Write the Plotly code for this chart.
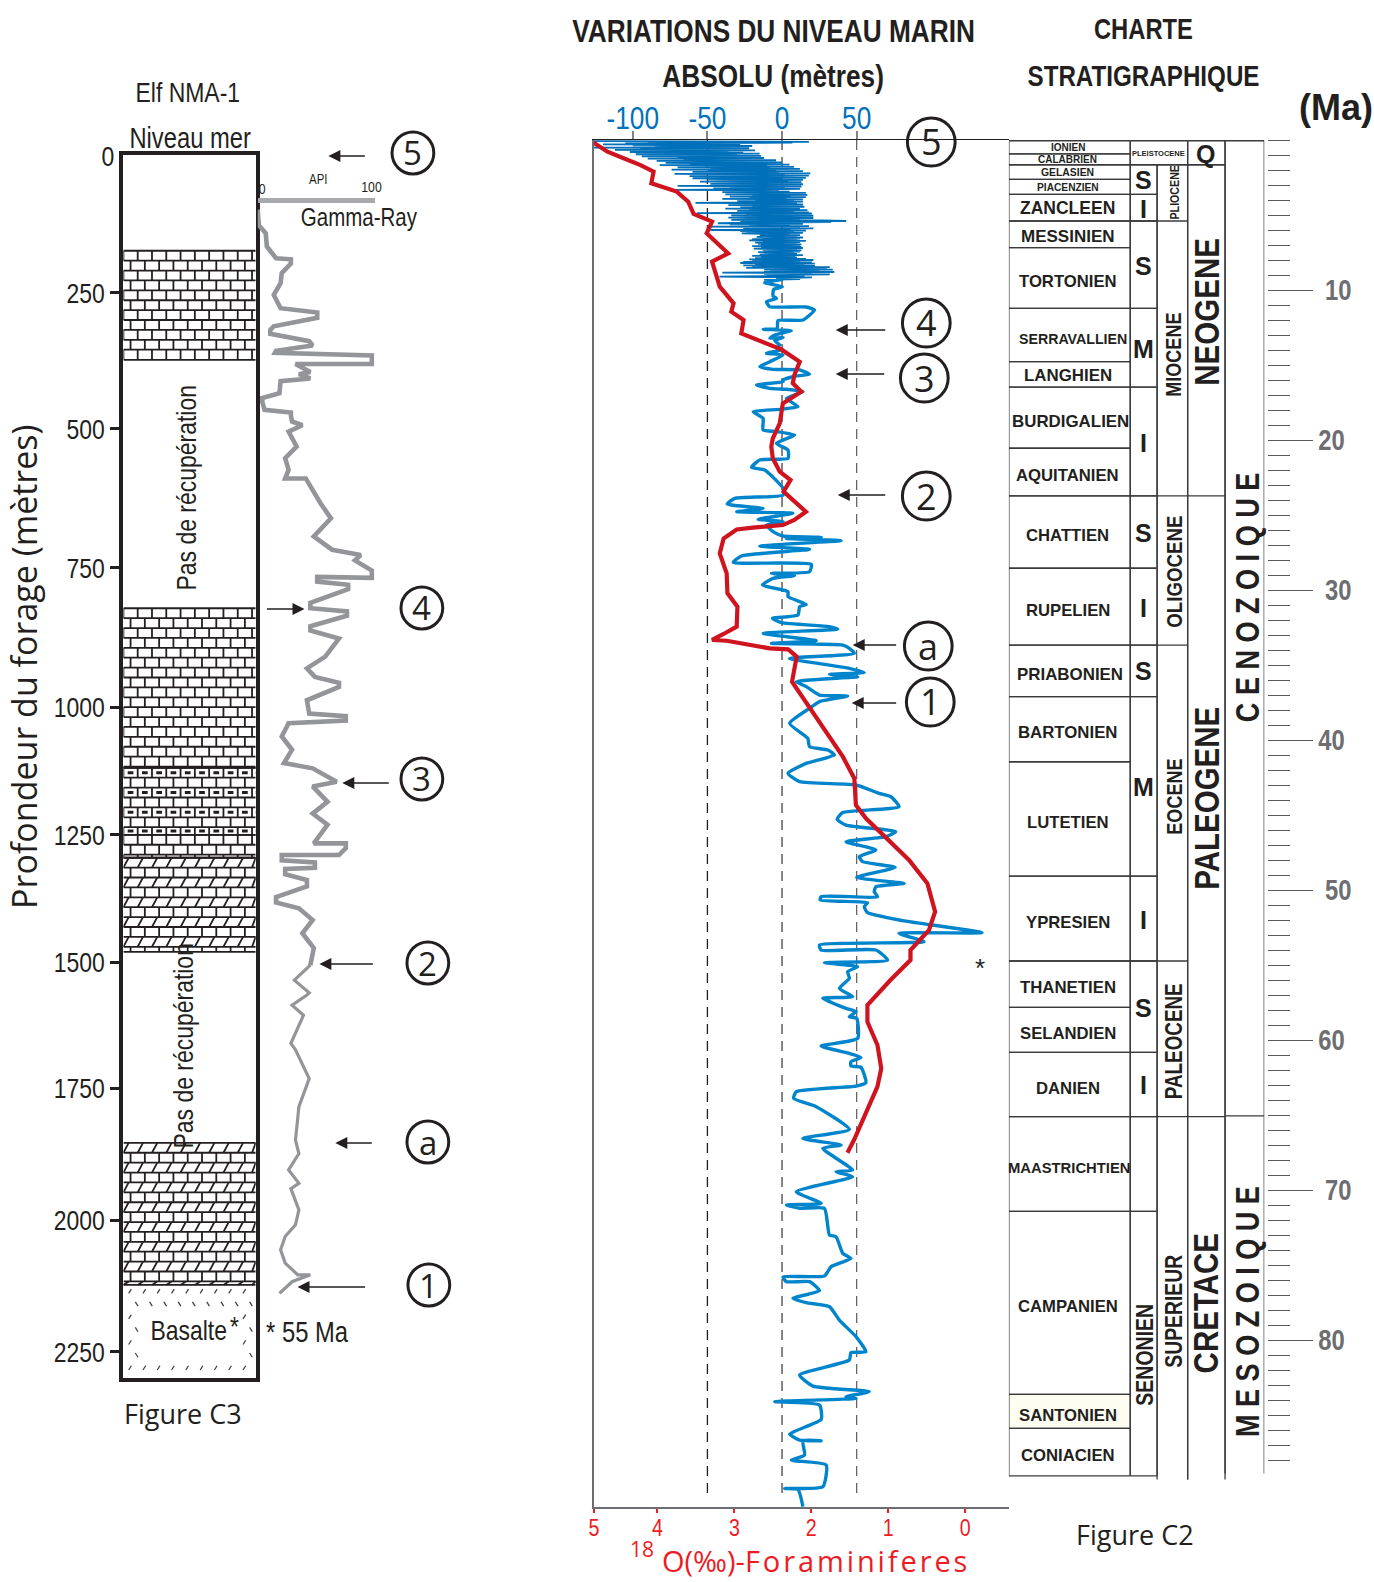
import plotly.graph_objects as go

W, H = 1374, 1582
NARROW = "Liberation Sans Narrow, Liberation Sans"
ARIAL = "Liberation Sans"
OPEN = "Open Sans"
INK = "#231F20"
GREY = "#939598"
BLUE = "#0085CC"
DEEP = "#0070BA"
RED = "#CF1420"
TICKRED = "#ED1C24"

# ---------- well log (Elf NMA-1) ----------
depth_tick_pos = [259, 515, 776, 1038, 1278, 1517, 1754, 2002, 2250]
depth_tick_txt = ["250", "500", "750", "1000", "1250", "1500", "1750", "2000", "2250"]
api_upper = [0, 1, 7, 8, 16, 29, 29, 21, 20, 14, 20, 52, 52, 14, 11, 11, 45, 48, 16, 15, 99.7, 99.7, 33, 46, 36, 46, 20, 19, 4, 4, 6, 29, 29, 30, 39, 27, 34, 24, 27, 24, 42, 55, 64, 49, 65, 90, 85, 99.7, 99.7, 52, 52, 79, 79, 46, 46, 78, 78, 46, 46, 71, 59, 43, 50, 71, 71, 43, 45, 77, 77, 27, 21, 30, 23, 48, 69, 48, 61, 48, 61, 49, 77, 77, 71, 21, 21, 50, 50, 24, 24, 43, 43, 16, 16, 36, 48, 39, 49, 46]
depth_upper = [103, 132, 147, 172, 194, 196, 204, 222, 241, 263, 288, 296, 306, 322, 329, 336, 350, 358, 368, 372, 377, 393, 393, 408, 412, 420, 425, 448, 457, 464, 479, 484, 490, 501, 508, 520, 548, 570, 592, 608, 608, 655, 683, 717, 742, 752, 762, 781, 795, 793, 802, 808, 816, 842, 852, 858, 866, 886, 894, 909, 943, 965, 981, 992, 1000, 1025, 1050, 1055, 1063, 1068, 1093, 1118, 1143, 1153, 1178, 1187, 1216, 1238, 1259, 1294, 1294, 1303, 1316, 1316, 1326, 1330, 1340, 1342, 1352, 1363, 1375, 1395, 1405, 1416, 1438, 1463, 1491, 1523]
api_lower = [46, 32, 45, 43, 30, 40, 29, 33, 45, 36, 33, 36, 27, 36, 29, 36, 33, 24, 20, 24, 35, 46, 30, 19]
depth_lower = [1523, 1551, 1575, 1579, 1598, 1617, 1670, 1682, 1736, 1789, 1852, 1877, 1908, 1933, 1943, 1983, 2011, 2033, 2058, 2083, 2105, 2105, 2118, 2140]
lith_units = ["brick", "brick", "dash", "brick", "slant", "slant"]
lith_tops = [180, 852, 1152, 1278, 1321, 1857]
lith_bases = [385, 1152, 1278, 1321, 1498, 2124]
basalt_top, basalt_base = 2124, 2299

# ---------- sea level / isotope curves ----------
recent_age = [.08, .12, .15, .18, .22, .25, .29, .33, .36, .40, .44, .47, .51, .55, .58, .62, .66, .69, .73, .77, .80, .84, .87, .91, .95, .98, 1.02, 1.06, 1.09, 1.13, 1.17, 1.20, 1.24, 1.28, 1.31, 1.35, 1.39, 1.42, 1.46, 1.50, 1.53, 1.57, 1.60, 1.64, 1.68, 1.72, 1.75, 1.79, 1.82, 1.86, 1.90, 1.93, 1.97, 2.01, 2.04, 2.08, 2.12, 2.15, 2.19, 2.23, 2.26, 2.30, 2.34, 2.37, 2.41, 2.44, 2.48, 2.52, 2.55, 2.59, 2.63, 2.66, 2.70, 2.74, 2.77, 2.81, 2.84, 2.88, 2.92, 2.95, 2.99, 3.03, 3.06, 3.10, 3.14, 3.18, 3.22, 3.26, 3.30, 3.33, 3.37, 3.41, 3.44, 3.48, 3.52, 3.55, 3.59, 3.63, 3.66, 3.70, 3.74, 3.78, 3.81, 3.85, 3.89, 3.93, 3.96, 4.00, 4.04, 4.08, 4.11, 4.15, 4.19, 4.23, 4.27, 4.30, 4.34, 4.38, 4.42, 4.45, 4.49, 4.53, 4.57, 4.60, 4.64, 4.68, 4.72, 4.75, 4.79, 4.83, 4.87, 4.90, 4.94, 4.98, 5.02, 5.05, 5.09, 5.13, 5.17, 5.20, 5.24, 5.28, 5.32, 5.36, 5.40, 5.43, 5.47, 5.51, 5.55, 5.59, 5.62, 5.66, 5.70, 5.74, 5.78, 5.81, 5.85, 5.89, 5.93, 5.97, 6.00, 6.04, 6.08, 6.12, 6.15, 6.19, 6.23, 6.27, 6.31, 6.34, 6.38, 6.42, 6.46, 6.50, 6.54, 6.57, 6.61, 6.65, 6.69, 6.73, 6.76, 6.80, 6.84, 6.88, 6.92, 6.96, 7.00, 7.04, 7.08, 7.12, 7.16, 7.20, 7.24, 7.28, 7.32, 7.36, 7.40, 7.44, 7.48, 7.52, 7.56, 7.60, 7.64, 7.68, 7.72, 7.76, 7.80, 7.84, 7.88, 7.92, 7.96, 8.00, 8.04, 8.08, 8.12, 8.16, 8.20, 8.24, 8.28, 8.32, 8.36, 8.40, 8.44, 8.48, 8.52, 8.56, 8.60, 8.64, 8.68, 8.72, 8.76, 8.80, 8.84, 8.88, 8.92, 8.96, 9.00, 9.05, 9.11, 9.16, 9.22, 9.28, 9.33]
recent_level = [-126, 18, -90, 7, -105, -40, -120, -28, -100, -20, -85, -32, -129, -22, -95, -30, -112, -18, -88, -36, -102, -26, -80, -15, -98, -30, -75, -14, -94, -35, -70, -12, -90, -28, -66, -4, -84, -20, -60, 0, -78, -18, -62, 5, -82, -10, -55, 8, -70, -8, -48, 12, -74, -4, -50, 14, -60, -2, -44, 19, -72, 2, -40, 18, -62, -3, -36, 16, -60, 0, -50, 14, -30, 4, -55, 13, -28, -4, -48, 14, -30, -2, -70, 13, -35, 2, -46, 12, -30, -71, -2, -25, 5, -40, 16, -22, 2, -38, 17, -20, 6, -35, 16, -22, 3, -40, 14, -18, 8, -30, 14, -20, -58, 10, -24, 14, -36, 6, -20, 15, -28, 4, -38, 12, -22, 17, -30, 8, -20, 18, -57, 20, -24, 8, -34, 21, -20, 10, -36, 21, -18, 12, -34, 27, 43, -28, 33, -20, -43, 14, -35, 5, -22, 18, -48, 12, -10, 21, -26, 6, -48, 16, -28, 8, -24, 14, -27, 5, -14, 12, -15, 10, -17, 14, -13, 12, -20, 10, -22, 16, -12, 12, -18, 10, -16, 13, -14, 12, -20, 13, -14, 14, -19, 10, -13, 13, -12, 12, -16, 8, -12, 10, -15, 14, -20, 9, -14, 10, -18, 16, -22, 21, -20, 12, -26, 20, -28, 22, -18, 15, -26, 22, -20, 32, -24, 30, -12, 34, -8, 25, -12, 35, -40, 20, -12, 32, -10, 15, -42, 20, -4, 12, -12]
older_age = [9.29, 9.51, 9.78, 9.96, 10.4, 10.56, 10.78, 11.11, 11.13, 11.33, 12.0, 12.04, 12.56, 12.62, 12.71, 13.0, 13.22, 13.16, 13.38, 13.67, 13.89, 14.0, 14.22, 14.33, 14.78, 15.11, 15.29, 15.33, 15.62, 15.73, 16.0, 16.11, 16.33, 16.56, 16.62, 16.78, 17.22, 17.78, 17.96, 18.11, 18.56, 19.33, 19.44, 19.67, 20.22, 20.67, 21.22, 21.33, 21.82, 22.0, 23.22, 23.67, 23.89, 24.27, 24.56, 24.78, 24.89, 25.29, 25.44, 25.67, 26.11, 26.4, 26.49, 26.56, 26.71, 27.07, 27.29, 27.73, 28.16, 28.29, 28.78, 28.89, 29.04, 29.22, 29.67, 30.11, 30.44, 30.96, 31.11, 31.67, 31.89, 32.18, 32.44, 32.6, 32.89, 33.38, 33.56, 33.67, 33.89, 34.22, 34.56, 35.22, 35.51, 35.62, 35.78, 36.11, 36.44, 37.0, 37.07, 37.44, 37.89, 38.89, 39.89, 40.44, 40.67, 41.0, 41.56, 42.22, 42.78, 43.0, 43.56, 43.78, 44.44, 44.84, 45.29, 45.67, 46.11, 46.44, 46.78, 47.33, 47.78, 48.11, 48.49, 49.16, 49.56, 49.78, 50.11, 50.44, 50.44, 50.67, 50.84, 51.11, 51.51, 52.04, 52.84, 52.89, 53.44, 53.67, 54.0, 54.0, 54.67, 54.84, 55.11, 55.44, 55.89, 56.56, 57.11, 57.22, 57.89, 58.11, 58.44, 58.56, 59.89, 60.4, 60.89, 61.16, 61.44, 61.73, 61.82, 62.84, 63.07, 63.44, 63.89, 64.44, 65.96, 66.56, 67.0, 67.22, 68.67, 68.78, 69.11, 70.11, 70.89, 71.0, 71.22, 71.22, 73.0, 73.11, 74.22, 74.56, 75.11, 75.73, 75.78, 76.11, 76.11, 76.71, 77.22, 77.51, 77.78, 78.67, 79.78, 80.78, 80.84, 81.33, 82.33, 83.07, 83.44, 83.78, 83.89, 84.11, 84.33, 85.29, 86.27, 86.67, 86.71, 86.71, 87.67, 88.0, 88.33, 89.78, 89.89, 89.96, 91.1]
older_level = [.7, -11.6, .2, -5.6, -6, -3.8, -10.4, -8.2, 16.2, 21.8, 14, -2.7, -3.3, -12.7, 6.2, -4.9, -8.2, .7, -4.9, -1.6, -3.8, -.4, -10.4, .7, -8.2, -14.9, -6, 11.8, 18.4, 9.6, .7, .7, -17.1, -8.2, 2.9, 14, 2.9, 10.7, -1.6, -19.3, -12.7, -12.7, -3.8, 8.4, -3.8, 4, 4, -14.9, -20.4, -11.6, .7, .7, -31.6, -36.7, -12.7, -30.4, 7.3, -16, .7, -10.4, -6, .7, 26.2, 2.9, 39.6, -14.9, 18.4, -27.1, -32.7, 19.6, 18.4, -7.1, 8.4, -6, -13.1, 4, 4, 16.2, 11.8, 10.7, -6.4, -.4, 31.8, 37.3, -12.7, 22.9, -7.1, 40.7, 45.1, 48.4, 5.1, 45.1, 55.1, 31.8, 50.7, 9.6, 16.2, 25.1, 44, 25.1, 18.4, 5.1, 17.3, 18.4, 30.7, 35.1, 16.2, 4, 11.8, 49.6, 65.1, 72.9, 78.4, 40.7, 36.9, 42.9, 76.2, 69.6, 42.9, 62.9, 51.8, 54, 75.8, 50, 81.8, 62.9, 61.8, 64, 26.2, 25.6, 57.3, 55.1, 57.3, 80.7, 134, 78.4, 95.1, 25.1, 26.2, 62.9, 70.7, 28.4, 50.7, 44, 45.1, 38.4, 47.3, 27.3, 42.9, 49.6, 45.1, 50, 50.7, 26.2, 45.1, 52.9, 46.2, 46.2, 52.9, 56.2, 49.6, 9.6, 7.8, 22.9, 45.1, 14, 39.6, 27.3, 47.3, 36.2, 47.3, 9.6, 26.2, 2.9, 11.8, 28.4, 31.8, 36.2, 40.7, 46.2, 32.9, 28.4, .7, 2.9, 18.4, 25.1, 7.3, 16.2, 31.8, 38.4, 49.6, 56.2, 46.2, 45.1, 11.8, 20.7, 58.4, 42.9, 49.6, -4.9, 25.1, 26.2, 5.1, 11.8, 26.2, 14, 15.1, 6.2, 29.6, 27.3, 1.8, 10.7, 14]
iso_age = [.11, .78, 1.22, 1.67, 2.11, 2.89, 3.44, 4.11, 4.93, 5.44, 6.22, 7.56, 8.11, 9.78, 10.89, 11.44, 12.0, 12.89, 13.96, 14.78, 15.67, 16.22, 16.78, 17.56, 18.89, 19.89, 20.44, 21.22, 22.11, 22.67, 23.44, 24.78, 25.33, 25.67, 25.84, 25.96, 26.56, 27.56, 28.89, 30.22, 31.11, 32.44, 32.93, 33.33, 33.38, 33.56, 33.89, 33.96, 34.44, 36.11, 37.67, 38.89, 41.11, 42.56, 44.33, 45.22, 47.0, 48.0, 49.56, 51.44, 52.67, 54.0, 54.67, 56.0, 57.67, 58.78, 60.33, 61.89, 63.11, 64.89, 66.62, 67.51]
iso_value = [4.85, 4.65, 4.44, 4.22, 4.05, 4.08, 3.75, 3.6, 3.53, 3.29, 3.36, 3.08, 3.29, 3.19, 3.01, 3.04, 2.88, 2.91, 2.39, 2.15, 2.22, 2.24, 2.13, 2.37, 2.41, 2.5, 2.52, 2.5, 2.41, 2.27, 2.36, 2.07, 2.22, 2.37, 2.76, 2.97, 3.14, 3.19, 3.1, 3.09, 2.96, 2.97, 3.14, 3.29, 3.1, 2.88, 2.54, 2.3, 2.19, 2.25, 2.04, 1.89, 1.59, 1.44, 1.42, 1.29, .94, .73, .49, .39, .47, .71, .71, .97, 1.27, 1.27, 1.14, 1.09, 1.14, 1.29, 1.44, 1.53]
level_refs = [-50, 0, 50]
level_ticks = [-100, -50, 0, 50]
level_tick_txt = ["-100", "-50", "0", "50"]
iso_ticks = [4.825, 4, 3, 2, 1, 0]
iso_tick_txt = ["5", "4", "3", "2", "1", "0"]

# ---------- stratigraphic chart ----------
stage_names = ["IONIEN", "CALABRIEN", "GELASIEN", "PIACENZIEN", "ZANCLEEN", "MESSINIEN", "TORTONIEN", "SERRAVALLIEN", "LANGHIEN", "BURDIGALIEN", "AQUITANIEN", "CHATTIEN", "RUPELIEN", "PRIABONIEN", "BARTONIEN", "LUTETIEN", "YPRESIEN", "THANETIEN", "SELANDIEN", "DANIEN", "MAASTRICHTIEN", "CAMPANIEN", "SANTONIEN", "CONIACIEN"]
stage_bounds = [.05, .93, 1.65, 2.62, 3.62, 5.4, 7.18, 11.22, 14.78, 16.47, 20.55, 23.73, 28.55, 33.67, 37.11, 41.45, 49.07, 54.73, 57.82, 60.82, 65.11, 71.42, 83.62, 85.89, 89.05]
stage_label_age = [.49, 1.29, 2.15, 3.15, 4.55, 6.4, 9.45, 13.29, 15.71, 18.78, 22.38, 26.38, 31.38, 35.62, 39.49, 45.51, 52.15, 56.51, 59.55, 63.22, 68.55, 77.78, 85.05, 87.71]
stage_sizes = [10, 10, 10.4, 10.2, 17.5, 17, 16.7, 14.2, 16.9, 16.9, 16.7, 16.7, 16.7, 16.9, 16.8, 16.7, 16.7, 16.8, 16.7, 16.7, 14.8, 16.7, 16.7, 16.7]
stage_x = [59, 59, 59, 59, 59, 59, 59, 64, 59, 62, 59, 59, 59, 61, 59, 59, 59, 59, 59, 59, 60, 59, 59, 59]
series_names = ["S", "I", "S", "M", "I", "S", "I", "S", "M", "I", "S", "I", "", "SENONIEN"]
series_tops = [1.65, 3.62, 5.4, 11.22, 16.47, 23.73, 28.55, 33.67, 37.11, 49.07, 54.73, 60.82, 65.11, 71.42]
series_bases = [3.62, 5.4, 11.22, 16.47, 23.73, 28.55, 33.67, 37.11, 49.07, 54.73, 60.82, 65.11, 71.42, 89.05]
series_label_age = [2.67, 4.6, 8.4, 13.93, 20.2, 26.2, 31.2, 35.4, 43.13, 52, 57.87, 63, 68, 81]
epoch_names = ["PLIOCENE", "MIOCENE", "OLIGOCENE", "EOCENE", "PALEOCENE", "SUPERIEUR"]
epoch_tops = [1.65, 5.4, 23.73, 33.67, 54.73, 65.11]
epoch_bases = [5.4, 23.73, 33.67, 54.73, 65.11, 89.3]
epoch_label_age = [3.5, 14.33, 28.8, 43.8, 60.13, 78.07]
epoch_sizes = [13, 22, 22.8, 22, 23, 23.6]
system_names = ["NEOGENE", "PALEOGENE", "CRETACE"]
system_tops = [1.65, 23.73, 65.11]
system_bases = [23.73, 65.11, 89.3]
system_label_age = [11.47, 43.87, 77.53]
era_names = ["C E N O Z O I Q U E", "M E S O Z O I Q U E"]
era_tops = [.05, 65.05]
era_bases = [65.05, 88.9]
era_label_age = [30.53, 78.13]
ma_major = list(range(0, 90, 5))
ma_minor = list(range(0, 89))
ma_labels = {10: "\u00a010", 20: "20", 30: "\u00a030", 40: "40", 50: "\u00a050", 60: "60", 70: "\u00a070", 80: "80"}
column_edges = [0, 122, 149, 179.7, 217.3, 256.7]


def px(x):
    return x / W


def py(y):
    return 1 - y / H


fig = go.Figure()

# --- lithology hatching ---
ROW = 18.6
BR = 0.108
hx, hy, dx, dy = [], [], [], []


def seg(a, b, c, d, xs=hx, ys=hy):
    xs += [a, c, None]
    ys += [b, d, None]


for unit, top, base in zip(lith_units, lith_tops, lith_bases):
    d0, i = top, 0
    while d0 < base - 1:
        d1 = min(d0 + ROW, base)
        seg(0, d0, 1, d0)
        off = 0.0 if i % 2 == 0 else BR / 2
        x = off
        while x < 1:
            if unit == "slant" and i % 2 == 0:
                seg(x, d1, min(x + 0.04, 1), d0)
            else:
                seg(x, d0, x, d1)
                if unit == "dash" and i % 2 == 0:
                    seg(x + BR * 0.3, (d0 + d1) / 2, min(x + BR * 0.7, 1), (d0 + d1) / 2, dx, dy)
            x += BR
        d0 = d1
        i += 1
    seg(0, base, 1, base)
bx, by = [], []
d, r = basalt_top + 8, 0
while d < basalt_base - 6:
    x = 0.04 + (0.05 if r % 2 else 0)
    while x < 0.98:
        inside = 0.13 < x < 0.85 and 2168 < d < 2262
        if not inside:
            if r % 2:
                seg(x, d, x + 0.02, d + 8, bx, by)
            else:
                seg(x + 0.02, d, x, d + 8, bx, by)
        x += 0.108
    d += 24
    r += 1

fig.add_trace(go.Scatter(x=hx, y=hy, xaxis="x", yaxis="y", mode="lines", line=dict(color=INK, width=1.8), hoverinfo="skip"))
fig.add_trace(go.Scatter(x=dx, y=dy, xaxis="x", yaxis="y", mode="lines", line=dict(color=INK, width=3), hoverinfo="skip"))
fig.add_trace(go.Scatter(x=bx, y=by, xaxis="x", yaxis="y", mode="lines", line=dict(color="#444", width=1.3), hoverinfo="skip"))

# --- gamma ray ---
fig.add_trace(go.Scatter(x=api_upper, y=depth_upper, xaxis="x2", yaxis="y", mode="lines", cliponaxis=False,
                         line=dict(color=GREY, width=4.6), hoverinfo="skip"))
fig.add_trace(go.Scatter(x=api_lower, y=depth_lower, xaxis="x2", yaxis="y", mode="lines", cliponaxis=False,
                         line=dict(color=GREY, width=3.2), hoverinfo="skip"))

# --- sea level panel ---
for v, c in zip(level_refs, [INK, "#444", "#666"]):
    fig.add_trace(go.Scatter(x=[v, v], y=[0, 90.4], xaxis="x3", yaxis="y3", mode="lines",
                             line=dict(color=c, width=1.3, dash="10px,7px"), hoverinfo="skip"))
fig.add_trace(go.Scatter(x=recent_level, y=recent_age, xaxis="x3", yaxis="y3", mode="lines", cliponaxis=False,
                         line=dict(color=DEEP, width=1.8), hoverinfo="skip"))
fig.add_trace(go.Scatter(x=older_level, y=older_age, xaxis="x3", yaxis="y3", mode="lines",
                         line=dict(color=BLUE, width=3.4, shape="spline", smoothing=0.5), hoverinfo="skip"))
fig.add_trace(go.Scatter(x=iso_value, y=iso_age, xaxis="x4", yaxis="y3", mode="lines", cliponaxis=False,
                         line=dict(color=RED, width=4.2), hoverinfo="skip"))

# --- stratigraphic boxes ---
sx, sy = [], []


def box(col0, col1, top, base, closed=True):
    a, b = column_edges[col0], column_edges[col1]
    seg(a, top, b, top, sx, sy)
    seg(a, top, a, base, sx, sy)
    seg(b, top, b, base, sx, sy)
    if closed:
        seg(a, base, b, base, sx, sy)


for t, b in zip(stage_bounds[:-1], stage_bounds[1:]):
    box(0, 1, t, b)
box(1, 3, stage_bounds[0], stage_bounds[2])
for t, b in zip(series_tops, series_bases):
    box(1, 2, t, b)
for t, b in zip(epoch_tops, epoch_bases):
    box(2, 3, t, b, closed=False)
box(3, 4, stage_bounds[0], stage_bounds[2])
for t, b in zip(system_tops, system_bases):
    box(3, 4, t, b, closed=False)
for t, b in zip(era_tops, era_bases):
    box(4, 5, t, b, closed=False)
fig.add_trace(go.Scatter(x=[column_edges[0], column_edges[1], column_edges[1], column_edges[0], column_edges[0]],
                         y=[stage_bounds[22], stage_bounds[22], stage_bounds[23], stage_bounds[23], stage_bounds[22]],
                         xaxis="x5", yaxis="y4", mode="lines", fill="toself", fillcolor="#FDFDF1",
                         line=dict(width=0), hoverinfo="skip"))
fig.add_trace(go.Scatter(x=sx, y=sy, xaxis="x5", yaxis="y4", mode="lines", cliponaxis=False,
                         line=dict(color="#3A3A3C", width=1.3), hoverinfo="skip"))

# --- axes ---
fig.update_layout(
    width=W, height=H, margin=dict(l=0, r=0, t=0, b=0), showlegend=False,
    paper_bgcolor="white", plot_bgcolor="rgba(0,0,0,0)", hovermode=False,
    xaxis=dict(domain=[px(117), px(250)], range=[0, 1], anchor="y", showgrid=False, zeroline=False,
               showticklabels=False, showline=True, mirror=True, linewidth=4, linecolor=INK, ticks=""),
    yaxis=dict(domain=[py(1378), py(155)], range=[2299, 0], anchor="x", showgrid=False, zeroline=False,
               showline=True, mirror=True, linewidth=4, linecolor=INK, tickvals=depth_tick_pos,
               ticktext=depth_tick_txt, ticks="outside", ticklen=9, tickwidth=3, tickcolor=INK,
               tickfont=dict(family=NARROW, size=28, color=INK)),
    xaxis2=dict(domain=[px(252), px(370)], range=[0, 102.6], anchor="free", position=py(200), side="top",
                showgrid=False, zeroline=False, showline=True, linewidth=5, linecolor="#A7A9AC",
                showticklabels=False, ticks=""),
    xaxis3=dict(domain=[px(590), px(1007)], range=[-126, 152], anchor="y3", side="top", showgrid=False,
                zeroline=False, showline=True, linewidth=1, linecolor=INK, tickvals=level_ticks,
                ticktext=level_tick_txt, ticks="outside", ticklen=8, tickwidth=1.5, tickcolor="#808285",
                ticklabelstandoff=-11, tickfont=dict(family=NARROW, size=32, color="#0072BC")),
    xaxis4=dict(domain=[px(590), px(1007)], range=[4.825, -0.569], anchor="y3", side="bottom", overlaying="x3",
                showgrid=False, zeroline=False, showline=True, linewidth=2, linecolor="#6D6E71", tickvals=iso_ticks,
                ticktext=iso_tick_txt, ticks="outside", ticklen=4, tickwidth=1.5, tickcolor=TICKRED,
                ticklabelstandoff=-6, tickfont=dict(family=NARROW, size=24, color=TICKRED)),
    yaxis3=dict(domain=[py(1507), py(140)], range=[91.13, 0], anchor="x3", showgrid=False, zeroline=False,
                showline=True, linewidth=2, linecolor="#6D6E71", showticklabels=False, ticks=""),
    xaxis5=dict(domain=[px(1007), px(1263.7)], range=[0, 256.7], anchor="y4", visible=False, showgrid=False,
                zeroline=False),
    yaxis4=dict(domain=[py(1507), py(140)], range=[91.13, 0], anchor="free", position=px(1266), side="right",
                showgrid=False, zeroline=False, showline=False, tickvals=ma_major,
                ticktext=[ma_labels.get(m, "") for m in ma_major], ticks="outside", ticklen=45, tickwidth=1.3,
                tickcolor="#58595B",
                tickfont=dict(family=NARROW, size=29, color="#6D6E71", weight=700),
                minor=dict(tickvals=ma_minor, ticks="outside", ticklen=22, tickwidth=1.1, tickcolor="#58595B")),
)


# --- text ---
ann = []


def label(text, x, y, size, family=NARROW, color=INK, weight=400, angle=0):
    ann.append(dict(text=text, x=px(x), y=py(y), xref="paper", yref="paper", showarrow=False, textangle=angle,
                    xanchor="center", yanchor="middle", font=dict(family=family, size=size, color=color, weight=weight)))


def chart_label(text, x, age, size, family=ARIAL, angle=0):
    ann.append(dict(text=text, x=x, y=age, xref="x5", yref="y4", showarrow=False, textangle=angle,
                    xanchor="center", yanchor="middle", font=dict(family=family, size=size, color=INK, weight=700)))


def arrow(head_x, tail_x, y):
    ann.append(dict(text="", x=px(head_x), y=py(y), xref="paper", yref="paper", ax=tail_x - head_x, ay=0,
                    showarrow=True, arrowhead=2, arrowsize=1.6, arrowwidth=1.5, arrowcolor=INK))


shapes = []


def circled(text, x, y, radius, size):
    shapes.append(dict(type="circle", xref="paper", yref="paper", x0=px(x - radius), x1=px(x + radius),
                       y0=py(y + radius), y1=py(y - radius), line=dict(color=INK, width=3), layer="above"))
    label(text, x, y, size, family=OPEN)


label("Elf NMA-1", 182, 92, 28)
label("Niveau mer", 184, 138, 29)
label("0", 102, 157, 28)
label("Profondeur du forage (mètres)", 17, 666, 34, family=OPEN, angle=-90)
label("Pas de récupération", 180, 488, 28, angle=-90)
label("Pas de récupération", 177, 1046, 28, angle=-90)
label("Basalte", 182, 1330, 28)
label("*", 229, 1326, 28)
label("* 55 Ma", 302, 1332, 29)
label("0", 256, 188, 15)
label("100", 366, 186, 15)
label("API", 313, 179, 14)
label("Gamma-Ray", 354, 217, 25)
label("Figure C3", 177, 1413, 27, family=OPEN)
label("Figure C2", 1134, 1534, 27, family=OPEN)
label("VARIATIONS DU NIVEAU MARIN", 770, 31, 32, weight=700)
label("ABSOLU (mètres)", 770, 76, 32, weight=700)
label("CHARTE", 1142, 29, 29, weight=700)
label("STRATIGRAPHIQUE", 1142, 75, 29.5, weight=700)
label("(Ma)", 1336, 107, 36, family=ARIAL, weight=700)
label("18", 638, 1549, 21, family=OPEN, color=TICKRED)
label("O(‰)-F\u200ao\u200ar\u200aa\u200am\u200ai\u200an\u200ai\u200af\u200ae\u200ar\u200ae\u200as", 812, 1560, 29, family=OPEN, color=TICKRED)
label("*", 978, 968, 26, family=ARIAL)

for name, age, size, x in zip(stage_names, stage_label_age, stage_sizes, stage_x):
    chart_label(name, x, age, size)
chart_label("PLEISTOCENE", 150, 0.93, 7.5)
for name, age in zip(series_names[:12], series_label_age[:12]):
    chart_label(name, 135.7, age, 25)
chart_label(series_names[13], 135.7, series_label_age[13], 23.8, family=NARROW, angle=-90)
for name, age, size in zip(epoch_names, epoch_label_age, epoch_sizes):
    chart_label(name, 166, age, size, family=NARROW, angle=-90)
chart_label("Q", 198, 0.93, 25)
for name, age in zip(system_names, system_label_age):
    chart_label(name, 198, age, 36, family=NARROW, angle=-90)
for name, age in zip(era_names, era_label_age):
    chart_label(name, 240, age, 33, family=NARROW, angle=-90)

for head, tail, y in [(323, 361, 156), (299, 260, 609), (337, 385, 783), (314, 369, 964), (330, 368, 1143), (292, 361, 1287),
                      (833, 884, 330), (833, 883, 374), (835, 884, 495), (850, 895, 645), (849, 895, 703)]:
    arrow(head, tail, y)
for text, x, y in [("5", 408, 153), ("4", 417, 608), ("3", 417, 779), ("2", 423, 963), ("a", 423, 1142), ("1", 424, 1285)]:
    circled(text, x, y, 21, 33)
for text, x, y in [("5", 929, 142), ("4", 924, 323), ("3", 922, 378), ("2", 924, 496), ("a", 926, 646), ("1", 928, 702)]:
    circled(text, x, y, 24, 36)

fig.update_layout(annotations=ann, shapes=shapes)
narrow_js = """
document.body.style.margin='0';document.body.style.overflow='hidden';
document.querySelectorAll('svg text').forEach(function(t){
  if(!(t.style.fontFamily||'').includes('Narrow')) return;
  var b=t.getBBox();
  var a=t.getAttribute('text-anchor')||t.style.textAnchor||'start';
  var cx=a==='end'?b.x+b.width:(a==='middle'?b.x+b.width/2:b.x);
  var tr=t.getAttribute('transform')||'';
  t.setAttribute('transform',tr+' translate('+cx+',0) scale(0.82,1) translate('+(-cx)+',0)');
});
"""
fig.write_html("out.html", config=dict(displayModeBar=False), post_script=narrow_js)
